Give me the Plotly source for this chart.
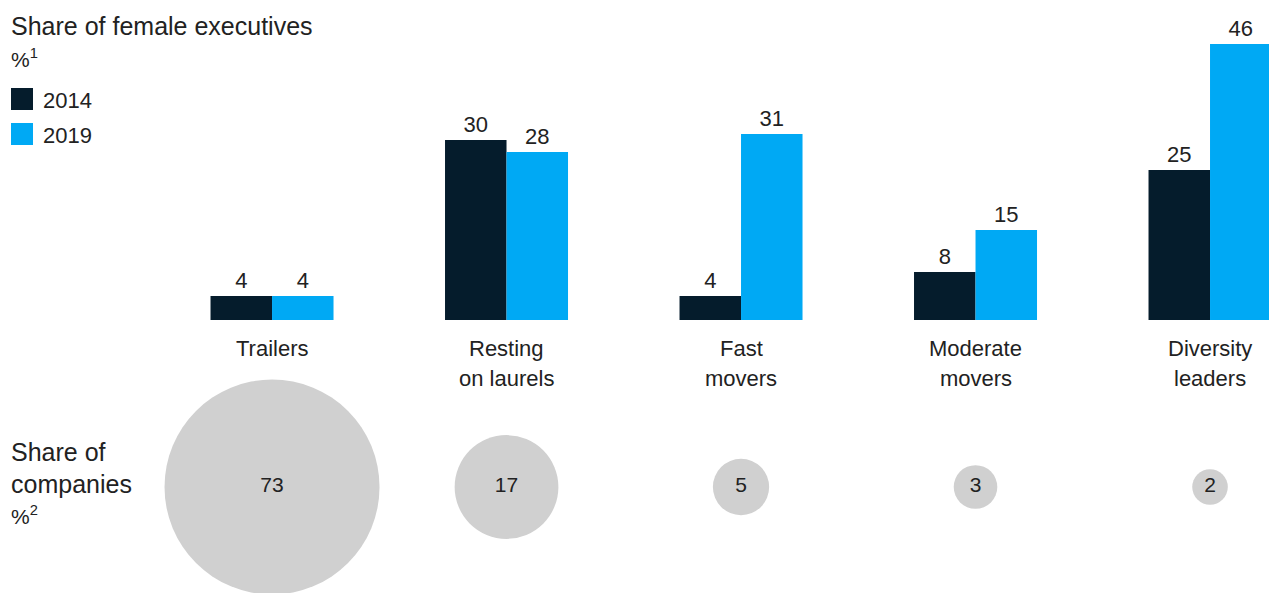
import plotly.graph_objects as go

# Data
categories = [["Trailers"], ["Resting", "on laurels"], ["Fast", "movers"],
              ["Moderate", "movers"], ["Diversity", "leaders"]]
share_2014 = [4, 30, 4, 8, 25]
share_2019 = [4, 28, 31, 15, 46]
share_companies = [73, 17, 5, 3, 2]
series_names = ["2014", "2019"]

NAVY = "#051C2C"
BLUE = "#00A9F4"
GREY = "#D0D0D0"
TEXT = "#222222"
FONT = "Liberation Sans"

W, H = 1269, 593
xpos = list(range(len(categories)))
xrange = [-1.16, -1.16 + W / 234.5]

fig = go.Figure()

for name, vals, col in zip(series_names, [share_2014, share_2019], [NAVY, BLUE]):
    fig.add_trace(go.Bar(
        x=xpos, y=vals, name=name, marker=dict(color=col, line=dict(width=0)),
        text=vals, textposition="outside", cliponaxis=False,
        textfont=dict(size=22, color=TEXT, family=FONT),
        xaxis="x", yaxis="y", showlegend=False,
    ))

# Bubbles: area proportional to share of companies
fig.add_trace(go.Scatter(
    x=xpos, y=[0] * len(xpos), mode="markers+text",
    marker=dict(size=share_companies, sizemode="area", sizeref=2 * 73 / 215 ** 2,
                color=GREY, opacity=1, line=dict(width=0)),
    text=[str(v) for v in share_companies], textposition="middle center",
    textfont=dict(size=21, color=TEXT, family=FONT),
    cliponaxis=False, xaxis="x2", yaxis="y2", showlegend=False,
))

annotations = []
for i, lines in enumerate(categories):
    for j, line in enumerate(lines):
        annotations.append(dict(x=i, y=0, xref="x", yref="y", text=line, showarrow=False,
                                yanchor="middle", yshift=-(28 + 30 * j), align="center",
                                font=dict(size=22, color=TEXT, family=FONT)))

annotations += [
    dict(x=9 / W, y=1 - 26 / H, xref="paper", yref="paper", xanchor="left", yanchor="middle",
         text="Share of female executives", showarrow=False, font=dict(size=25, color=TEXT, family=FONT)),
    dict(x=9 / W, y=1 - 58 / H, xref="paper", yref="paper", xanchor="left", yanchor="middle",
         text="%<sup>1</sup>", showarrow=False, font=dict(size=21, color=TEXT, family=FONT)),
    dict(x=9 / W, y=1 - 452 / H, xref="paper", yref="paper", xanchor="left", yanchor="middle",
         text="Share of", align="left", showarrow=False,
         font=dict(size=25, color=TEXT, family=FONT)),
    dict(x=9 / W, y=1 - 484 / H, xref="paper", yref="paper", xanchor="left", yanchor="middle",
         text="companies", align="left", showarrow=False,
         font=dict(size=25, color=TEXT, family=FONT)),
    dict(x=9 / W, y=1 - 515 / H, xref="paper", yref="paper", xanchor="left", yanchor="middle",
         text="%<sup>2</sup>", showarrow=False, font=dict(size=21, color=TEXT, family=FONT)),
]

# Legend swatches with labels
shapes = []
for k, (name, col) in enumerate(zip(series_names, [NAVY, BLUE])):
    yc = 99 + 35 * k
    shapes.append(dict(type="rect", xref="paper", yref="paper",
                       x0=11 / W, x1=33 / W, y0=1 - (yc + 11) / H, y1=1 - (yc - 11) / H,
                       fillcolor=col, line=dict(width=0)))
    annotations.append(dict(x=41 / W, y=1 - (yc + 1) / H, xref="paper", yref="paper",
                            xanchor="left", yanchor="middle", text=name, showarrow=False,
                            font=dict(size=22, color=TEXT, family=FONT)))

base_px = 320
top_px = 20
fig.update_layout(
    width=W, height=H, margin=dict(l=0, r=0, t=0, b=0),
    paper_bgcolor="white", plot_bgcolor="white",
    barmode="group", bargap=1 - 123 / 234.5, bargroupgap=0,
    font=dict(family=FONT, color=TEXT),
    xaxis=dict(range=xrange, domain=[0, 1], visible=False, fixedrange=True),
    yaxis=dict(range=[0, (base_px - top_px) / 6], domain=[(H - base_px) / H, (H - top_px) / H],
               visible=False, fixedrange=True),
    xaxis2=dict(range=xrange, domain=[0, 1], visible=False, anchor="y2", fixedrange=True),
    yaxis2=dict(range=[-1, 1], domain=[0, 2 * (H - 487) / H], visible=False, anchor="x2", fixedrange=True),
    annotations=annotations, shapes=shapes,
    showlegend=False,
)

fig.write_html("out.html")
